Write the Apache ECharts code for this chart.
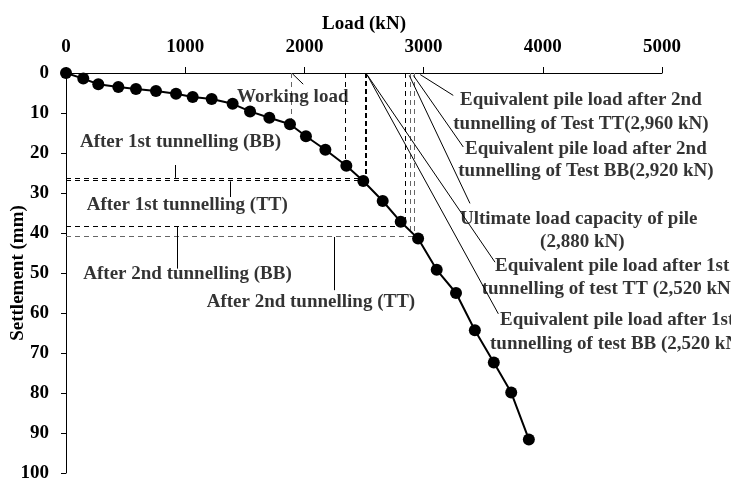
<!DOCTYPE html>
<html><head><meta charset="utf-8">
<script src="https://cdn.jsdelivr.net/npm/echarts@6/dist/echarts.min.js"></script>
<style>html,body{margin:0;padding:0;background:#fff}#c{width:731px;height:479px}</style>
</head><body><div id="c"></div>
<script>
// Load–settlement curve
const loads = [0,145,271,439,587,755,923,1063,1222,1398,1544,1706,1879,2013,2176,2352,2494,2657,2808,2954,3110,3272,3430,3589,3735,3883];
const settlements = [0,1.4,2.8,3.5,4.0,4.5,5.2,6.0,6.5,7.7,9.6,11.2,12.8,15.8,19.2,23.2,27.0,32.0,37.2,41.4,49.2,55.0,64.3,72.4,79.9,91.6];

// Dashed guide lines [load1, settle1, load2, settle2, grey?]
const guideLines = [
  [1890,0,1890,12.4,1],
  [2341,0,2341,22.8,0],
  [0,26.4,2520,26.4,0],
  [0,26.9,2520,26.9,0],
  [0,38.3,2846,38.3,0],
  [0,40.75,2922,40.75,1],
  [2846,0,2846,38.3,0],
  [2886,0,2886,39.3,1],
  [2922,0,2922,40.75,1]
];
const boldGuide = [[2518,0,2518,26.9]];

// Arrows [fromLoad, fromSettle, toLoad, toSettle]
const arrows = [
  [1990,2.8,1900,0.2],
  [3249,5.6,2972,0.4],
  [3333,18.5,2914,0.6],
  [3389,32.6,2880,0.6],
  [3599,47.3,2525,0.4],
  [3627,60.2,2525,0.4],
  [914,23.0,914,26.2],
  [1376,31.0,1376,27.1],
  [937,48.9,937,38.5],
  [2251,54.3,2251,41.0]
];

// Annotation text lines [load, settlement, text]
const notes = [
  [1435,6.1,'Working load'],
  [117,17.25,'After 1st tunnelling (BB)'],
  [174,33.1,'After 1st tunnelling (TT)'],
  [145,50.15,'After 2nd tunnelling (BB)'],
  [1180,57.25,'After 2nd tunnelling (TT)'],
  [3305,6.8,'Equivalent pile load after 2nd'],
  [3249,12.65,'tunnelling of Test TT(2,960 kN)'],
  [3347,18.9,'Equivalent pile load after 2nd'],
  [3291,24.5,'tunnelling of Test BB(2,920 kN)'],
  [3305,36.4,'Ultimate load capacity of pile'],
  [3977,42.25,'(2,880 kN)'],
  [3599,48.3,'Equivalent pile load after 1st'],
  [3487,53.9,'tunnelling of test TT (2,520 kN)'],
  [3641,61.8,'Equivalent pile load after 1st'],
  [3557,67.65,'tunnelling of test BB (2,520 kN)']
];

const xMin = 0, xMax = 5000, xStep = 1000;
const yMin = 0, yMax = 100, yStep = 10;

const FONT = 'Liberation Serif';
const FS = 19;
const chart = echarts.init(document.getElementById('c'), null, {renderer:'canvas'});

const seg = (l, style) => l.map(a => [
  {coord:[a[0],a[1]], lineStyle: style(a)},
  {coord:[a[2],a[3]]}
]);

chart.setOption({
  animation:false,
  backgroundColor:'#fff',
  grid:{left:66,right:69,top:73,bottom:6,outerBoundsMode:'none',containLabel:false},
  xAxis:{
    type:'value', position:'top', min:xMin, max:xMax, interval:xStep,
    name:'Load (kN)', nameLocation:'middle', nameGap:39, nameMoveOverlap:false,
    nameTextStyle:{fontFamily:FONT,fontWeight:'bold',fontSize:FS,color:'#000'},
    axisLine:{show:true,onZero:false,lineStyle:{color:'#000',width:1}},
    axisTick:{show:true,inside:false,length:6,lineStyle:{color:'#000'}},
    axisLabel:{fontFamily:FONT,fontWeight:'bold',fontSize:FS,color:'#000',margin:16,formatter:v=>String(v)},
    splitLine:{show:false}
  },
  yAxis:{
    type:'value', inverse:true, min:yMin, max:yMax, interval:yStep,
    name:'Settlement (mm)', nameLocation:'middle', nameGap:38, nameRotate:90, nameMoveOverlap:false,
    nameTextStyle:{fontFamily:FONT,fontWeight:'bold',fontSize:FS,color:'#000'},
    axisLine:{show:true,onZero:false,lineStyle:{color:'#000',width:1}},
    axisTick:{show:true,inside:false,length:5,lineStyle:{color:'#000'}},
    axisLabel:{fontFamily:FONT,fontWeight:'bold',fontSize:FS,color:'#000',margin:17,showMaxLabel:true,showMinLabel:true,formatter:v=>String(v)},
    splitLine:{show:false}
  },
  series:[
    {
      type:'line', name:'guides', data:[], silent:true, z:1,
      markLine:{
        silent:true, symbol:['none','none'], animation:false,
        label:{show:false},
        data: seg(guideLines, a => ({type:[5,4], width:1, color: a[4] ? '#666' : '#000'}))
          .concat(seg(boldGuide, () => ({type:[5,3], width:2, color:'#000'})))
      }
    },
    {
      type:'line', name:'arrows', data:[], silent:true, z:2,
      markLine:{
        silent:true, symbol:['none','arrow'], symbolSize:[0,9], animation:false,
        label:{show:false},
        data: seg(arrows, () => ({type:'solid', width:1, color:'#000'}))
      }
    },
    {
      type:'line', name:'Load-settlement',
      data: loads.map((x,i)=>[x,settlements[i]]),
      symbol:'circle', symbolSize:12, showSymbol:true,
      itemStyle:{color:'#000'}, lineStyle:{color:'#000',width:2},
      z:5, clip:false
    },
    {
      type:'scatter', name:'notes', symbolSize:0, silent:true, z:6, clip:false,
      data: notes.map(n => ({value:[n[0],n[1]], name:n[2]})),
      label:{show:true, position:'right', distance:0, formatter:'{b}',
        fontFamily:FONT, fontWeight:'bold', fontSize:FS, color:'#000'}
    }
  ]
});
</script></body></html>
